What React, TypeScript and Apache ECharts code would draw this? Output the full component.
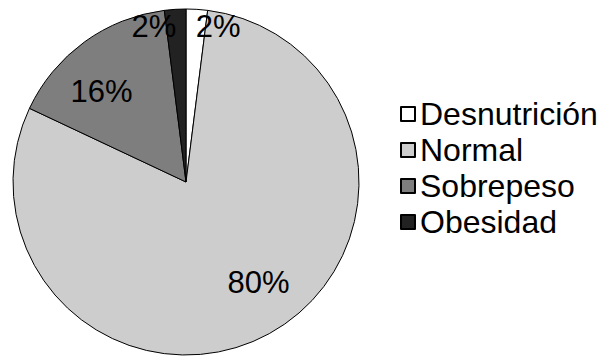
import React, { useEffect, useRef } from "react";
import * as echarts from "echarts";

// Distribución del estado nutricional
const categories = ["Desnutrición", "Normal", "Sobrepeso", "Obesidad"];
const percentages = [2, 80, 16, 2];
const sliceColors = ["#ffffff", "#cdcdcd", "#7e7e7e", "#222222"];

const FONT = "'Liberation Sans', Arial, sans-serif";
const CENTER = [186, 182];
const R = 173;

export default function App() {
  const ref = useRef<HTMLDivElement>(null);

  useEffect(() => {
    if (!ref.current) return;
    const chart = echarts.init(ref.current, undefined, { renderer: "svg" });

    const pieData = categories.map((name, i) => ({
      name,
      value: percentages[i],
      itemStyle: { color: sliceColors[i] },
    }));

    // big slices: labels sit well inside the pie
    const bigLabelData = categories.map((name, i) => ({
      name,
      value: percentages[i],
      label: { show: percentages[i] >= 10 },
    }));
    // thin slices: labels near the rim, pushed sideways
    const smallLabelData = categories.map((name, i) => ({
      name,
      value: percentages[i],
      label: { show: percentages[i] < 10 },
    }));

    const labelStyle = {
      position: "inside",
      formatter: "{c}%",
      fontFamily: FONT,
      fontSize: 31,
      color: "#000",
    };

    const labelSeriesBase = {
      type: "pie" as const,
      center: CENTER,
      clockwise: true,
      silent: true,
      legendHoverLink: false,
      itemStyle: { color: "rgba(0,0,0,0)", borderWidth: 0 },
      labelLine: { show: false },
      emphasis: { disabled: true },
      z: 5,
    };

    chart.setOption({
      animation: false,
      backgroundColor: "#ffffff",
      legend: {
        orient: "vertical",
        left: 395,
        top: 93,
        data: categories,
        itemWidth: 14,
        itemHeight: 14,
        itemGap: 4,
        icon: "rect",
        textStyle: {
          fontFamily: FONT,
          fontSize: 32,
          color: "#000",
          padding: [0, 0, 0, 0],
        },
        selectedMode: false,
      },
      series: [
        {
          type: "pie",
          name: "Estado nutricional",
          center: CENTER,
          radius: R,
          startAngle: 90,
          clockwise: true,
          data: pieData,
          itemStyle: { borderColor: "#000", borderWidth: 1 },
          label: { show: false },
          labelLine: { show: false },
          emphasis: { disabled: true },
        },
        {
          ...labelSeriesBase,
          name: "etiquetas",
          radius: [69, R],
          startAngle: 97,
          data: bigLabelData,
          label: labelStyle,
        },
        {
          ...labelSeriesBase,
          name: "etiquetas-borde",
          radius: [133, R],
          startAngle: 90,
          data: smallLabelData,
          label: labelStyle,
          labelLayout: (params: any) => ({
            align: params.dataIndex === 0 ? "left" : "right",
          }),
        },
      ],
    });

    return () => chart.dispose();
  }, []);

  return (
    <div
      ref={ref}
      style={{ position: "fixed", left: 0, top: 0, width: 600, height: 356 }}
    />
  );
}
